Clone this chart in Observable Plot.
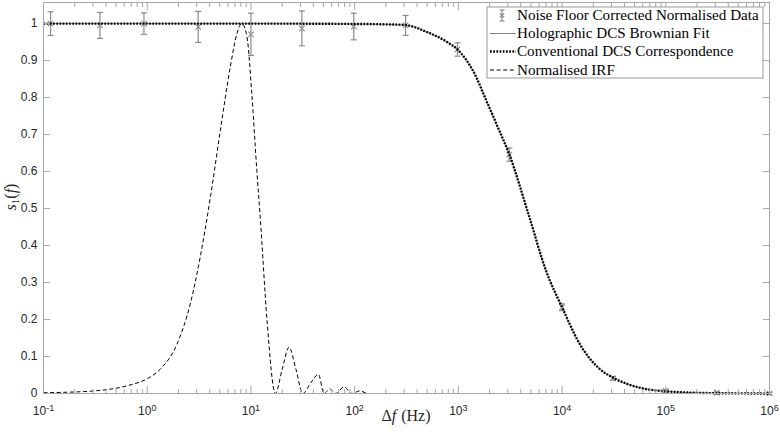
<!DOCTYPE html>
<html><head><meta charset="utf-8">
<script src="https://cdn.jsdelivr.net/npm/d3@7"></script>
<script src="https://cdn.jsdelivr.net/npm/@observablehq/plot@0.6"></script>
<style>body{margin:0;background:#fff} #chart{width:780px;height:437px}</style>
</head><body><div id="chart"></div>
<script>
// ---- data ----
const dataFreq = [0.117, 0.35, 0.93, 3.1, 10, 31, 98, 310, 980, 3100, 10000, 31000, 100000, 310000, 1000000];
const dataS    = [1.0, 0.995, 1.0, 0.991, 0.971, 0.987, 0.992, 0.995, 0.93, 0.646, 0.233, 0.041, 0.007, 0.002, 0.0];
const dataErr  = [0.032, 0.035, 0.029, 0.042, 0.057, 0.047, 0.036, 0.027, 0.018, 0.018, 0.009, 0.005, 0.004, 0.003, 0.003];

const fitFreq = [0.1, 1, 10, 100, 200, 310, 490, 770, 980, 1400, 1860, 2400, 3100, 4850, 7000, 10000, 14650, 22900, 32000, 55300, 100000, 280000, 1000000];
const fitS    = [1, 1, 1, 0.999, 0.998, 0.996, 0.978, 0.951, 0.93, 0.87, 0.792, 0.72, 0.646, 0.476, 0.332, 0.233, 0.136, 0.067, 0.041, 0.016, 0.006, 0.001, 0];

const irfFreq = [0.1, 0.147, 0.307, 0.643, 1.0, 1.34, 1.94, 2.6, 3.24, 4.07, 5.07, 6.33, 7.33, 8.18, 9.16, 10.2, 11.4, 12.3, 14.3, 17.2, 20, 23.3, 27.2, 31.6, 38, 44.7, 50.7, 57.6, 66, 79, 94, 112, 135, 1000000];
const irfS    = [0.002, 0.003, 0.007, 0.021, 0.04, 0.066, 0.134, 0.242, 0.368, 0.531, 0.711, 0.883, 0.973, 1.0, 0.964, 0.81, 0.603, 0.476, 0.197, 0, 0.065, 0.125, 0.065, 0, 0.03, 0.052, 0, 0.012, 0, 0.018, 0, 0.007, 0, 0];

const xMajor = [0.1, 1, 10, 100, 1000, 10000, 100000, 1000000];
const xExp   = ["-1", "0", "1", "2", "3", "4", "5", "6"];
const yTicks = [0, 0.1, 0.2, 0.3, 0.4, 0.5, 0.6, 0.7, 0.8, 0.9, 1];
const yTickLabels = ["0", "0.1", "0.2", "0.3", "0.4", "0.5", "0.6", "0.7", "0.8", "0.9", "1"];

const legendLabels = ["Noise Floor Corrected Normalised Data", "Holographic DCS Brownian Fit", "Conventional DCS Correspondence", "Normalised IRF"];
const xLabel = "(Hz)";

// ---- build tables ----
const points = dataFreq.map((f, i) => ({f, s: dataS[i], e: dataErr[i]}));
const fit = fitFreq.map((f, i) => ({f, s: fitS[i]}));
const irf = irfFreq.map((f, i) => ({f, s: irfS[i]}));
const xMinor = [];
for (let k = -1; k < 6; k++) for (let m = 2; m <= 9; m++) xMinor.push(m * Math.pow(10, k));

const frameColor = "#a6a6a6";
const gray = "#8a8a8a";
const capSymbol = {draw(ctx, size) { const w = Math.sqrt(size / Math.PI); ctx.moveTo(-w, 0); ctx.lineTo(w, 0); }};
const blank = () => "";
const dotted = "1.7 1.5";
const dashed = "4 2.6";

const plot = Plot.plot({
  width: 780, height: 437,
  marginLeft: 43, marginRight: 11, marginTop: 2, marginBottom: 44,
  style: {fontFamily: "'Liberation Sans', Arial, sans-serif", fontSize: "12px", color: "#262626", background: "white", overflow: "visible"},
  x: {type: "log", domain: [0.1, 1e6]},
  y: {domain: [0, 1.057]},
  marks: [
    // error bars & markers
    Plot.ruleX(points, {x: "f", y1: d => d.s - d.e, y2: d => d.s + d.e, stroke: gray, strokeWidth: 1.2}),
    Plot.dot(points, {x: "f", y: d => d.s - d.e, symbol: capSymbol, r: 3, stroke: gray, strokeWidth: 1.2}),
    Plot.dot(points, {x: "f", y: d => d.s + d.e, symbol: capSymbol, r: 3, stroke: gray, strokeWidth: 1.2}),
    Plot.dot(points, {x: "f", y: "s", symbol: "times", r: 2.6, stroke: gray, strokeWidth: 1.1}),
    // fits
    Plot.line(fit, {x: "f", y: "s", stroke: "#808080", strokeWidth: 1, curve: "monotone-x"}),
    Plot.line(fit, {x: "f", y: "s", stroke: "#000", strokeWidth: 2.4, strokeDasharray: dotted, strokeLinecap: "butt", curve: "monotone-x"}),
    // IRF
    Plot.line(irf, {x: "f", y: "s", stroke: "#000", strokeWidth: 1, strokeDasharray: dashed, strokeLinecap: "butt", curve: "monotone-x"}),
    // frame
    Plot.frame({stroke: frameColor, strokeWidth: 1}),
    // axes: labels
    Plot.axisX(xMajor, {anchor: "bottom", tickSize: 0, tickPadding: 13, tickFormat: d => "10^" + xExp[xMajor.indexOf(d)], label: null, fontSize: 12, fill: "#262626"}),
    Plot.axisY(yTicks, {anchor: "left", tickSize: 0, tickPadding: 6, tickFormat: d => yTickLabels[yTicks.indexOf(d)], label: null, fontSize: 12, fill: "#262626"}),
    // inward ticks
    Plot.axisX(xMajor, {anchor: "bottom", tickSize: 7, dy: -7, tickFormat: blank, label: null, stroke: frameColor}),
    Plot.axisX(xMinor, {anchor: "bottom", tickSize: 4, dy: -4, tickFormat: blank, label: null, stroke: frameColor}),
    Plot.axisX(xMajor, {anchor: "top", tickSize: 7, dy: 7, tickFormat: blank, label: null, stroke: frameColor}),
    Plot.axisX(xMinor, {anchor: "top", tickSize: 4, dy: 4, tickFormat: blank, label: null, stroke: frameColor}),
    Plot.axisY(yTicks, {anchor: "left", tickSize: 7, dx: 7, tickFormat: blank, label: null, stroke: frameColor}),
    Plot.axisY(yTicks, {anchor: "right", tickSize: 7, dx: -7, tickFormat: blank, label: null, stroke: frameColor})
  ]
});
document.getElementById("chart").appendChild(plot);
const svg = d3.select(plot);

// superscript exponents on x tick labels
svg.selectAll('g[aria-label="x-axis tick label"] text').each(function() {
  const m = /^10\^(.+)$/.exec(this.textContent);
  if (!m) return;
  this.textContent = "";
  const t = d3.select(this);
  t.append("tspan").text("10");
  t.append("tspan").attr("dy", "-0.5em").attr("font-size", "9px").text(m[1]);
});

const serif = "'Liberation Serif', 'Times New Roman', serif";
// y label
const yl = svg.append("text").attr("transform", "translate(16,197) rotate(-90)")
  .attr("text-anchor", "middle").attr("font-family", serif).attr("font-size", 16).attr("fill", "#262626");
yl.append("tspan").attr("font-style", "italic").text("s");
yl.append("tspan").attr("font-size", 11).attr("dy", 3).text("1");
yl.append("tspan").attr("dy", -3).text("(");
yl.append("tspan").attr("font-style", "italic").text("f");
yl.append("tspan").text(")");
// x label
const xl = svg.append("text").attr("x", 406).attr("y", 421)
  .attr("text-anchor", "middle").attr("font-family", serif).attr("font-size", 16).attr("fill", "#262626")
  .attr("xml:space", "preserve").style("white-space", "pre");
xl.append("tspan").text("Δ");
xl.append("tspan").attr("font-style", "italic").text("f");
xl.append("tspan").attr("dx", 5).text(xLabel);

// legend
const lg = svg.append("g").attr("text-anchor", "start");
lg.append("rect").attr("x", 487).attr("y", 7).attr("width", 276).attr("height", 71)
  .attr("fill", "white").attr("stroke", "#999").attr("stroke-width", 1);
const rowsY = [15.5, 33.5, 51.5, 70];
const texts = legendLabels.map((s, i) => lg.append("text").attr("x", 517).attr("y", rowsY[i] + 4.5)
  .attr("text-anchor", "start").attr("font-family", serif).attr("font-size", 15).attr("fill", "#000").text(s));
const w0 = texts[0].node().getComputedTextLength();
const fs = 15 * 242 / w0;
texts.forEach(t => t.attr("font-size", fs));
// symbols
lg.append("line").attr("x1", 502).attr("x2", 502).attr("y1", 10).attr("y2", 21).attr("stroke", gray).attr("stroke-width", 1.2);
lg.append("line").attr("x1", 499.5).attr("x2", 504.5).attr("y1", 10).attr("y2", 10).attr("stroke", gray).attr("stroke-width", 1.2);
lg.append("line").attr("x1", 499.5).attr("x2", 504.5).attr("y1", 21).attr("y2", 21).attr("stroke", gray).attr("stroke-width", 1.2);
lg.append("path").attr("d", "M500,13.5L504,17.5M500,17.5L504,13.5").attr("stroke", gray).attr("stroke-width", 1.1);
lg.append("line").attr("x1", 490).attr("x2", 516).attr("y1", rowsY[1]).attr("y2", rowsY[1]).attr("stroke", "#808080").attr("stroke-width", 1);
lg.append("line").attr("x1", 490).attr("x2", 516).attr("y1", rowsY[2]).attr("y2", rowsY[2]).attr("stroke", "#000").attr("stroke-width", 2.4).attr("stroke-dasharray", dotted);
lg.append("line").attr("x1", 490).attr("x2", 516).attr("y1", rowsY[3]).attr("y2", rowsY[3]).attr("stroke", "#000").attr("stroke-width", 1).attr("stroke-dasharray", dashed);
</script></body></html>
